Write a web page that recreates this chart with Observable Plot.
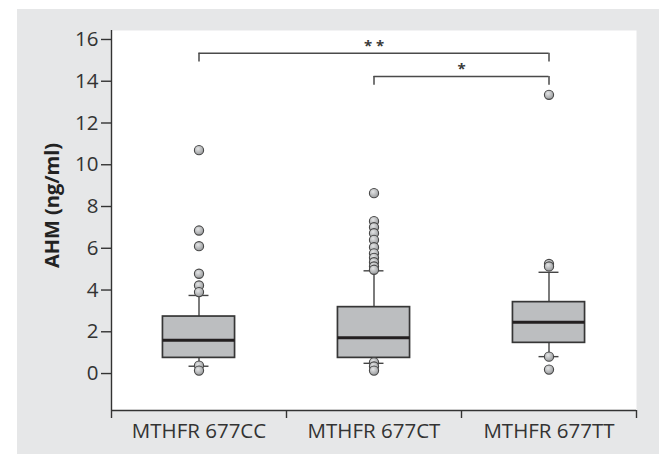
<!DOCTYPE html>
<html>
<head>
<meta charset="utf-8">
<script src="https://cdn.jsdelivr.net/npm/d3@7"></script>
<script src="https://cdn.jsdelivr.net/npm/@observablehq/plot@0.6"></script>
<style>
  html, body { margin: 0; padding: 0; background: #ffffff; }
  #wrap { position: relative; width: 659px; height: 454px; overflow: hidden; }
  #bg { position: absolute; left: 17px; top: 9px; width: 642px; height: 445px; background: #e6e7e8; }
  #chart { position: absolute; left: 0; top: 0; }
</style>
</head>
<body>
<div id="wrap"><div id="bg"></div><div id="chart"></div></div>
<script>
// ---- data ----
const groups = ["MTHFR 677CC", "MTHFR 677CT", "MTHFR 677TT"];
const q1 = [0.75, 0.75, 1.47];
const medians = [1.6, 1.71, 2.46];
const q3 = [2.73, 3.18, 3.42];
const whiskerLow = [0.35, 0.49, 0.81];
const whiskerHigh = [3.74, 4.92, 4.85];
const outliersCC = [10.7, 6.85, 6.1, 4.78, 4.22, 3.9, 0.38, 0.14];
const outliersCT = [8.64, 7.3, 7.01, 6.72, 6.4, 6.05, 5.76, 5.54, 5.33, 5.13, 4.97, 0.54, 0.34, 0.14];
const outliersTT = [13.35, 5.25, 5.13, 0.81, 0.19];
const yTicks = [0, 2, 4, 6, 8, 10, 12, 14, 16];
const yTitle = "AHM (ng/ml)";
const bracketFrom = [0, 1];
const bracketTo = [2, 2];
const bracketLevel = [15.34, 14.23];
const bracketLabel = ["* *", "*"];

// ---- derived tables ----
const yDomain = [-1.77, 16.43];
const boxHalf = 0.206, capHalf = 0.057, drop = 0.42;
const boxes = groups.map((g, i) => ({g, x: i + 0.5, q1: q1[i], med: medians[i], q3: q3[i], lo: whiskerLow[i], hi: whiskerHigh[i]}));
const outliers = [outliersCC, outliersCT, outliersTT];
const points = outliers.flatMap((arr, i) => arr.map(v => ({x: i + 0.5, y: v})));
const brackets = bracketFrom.map((f, i) => ({x1: f + 0.5, x2: bracketTo[i] + 0.5, y: bracketLevel[i], label: bracketLabel[i]}));
const bracketDrops = brackets.flatMap(b => [{x: b.x1, y1: b.y, y2: b.y - drop}, {x: b.x2, y1: b.y, y2: b.y - drop}]);

const ink = "#333333";
const plot = Plot.plot({
  width: 659,
  height: 454,
  marginLeft: 111,
  marginRight: 23,
  marginTop: 30,
  marginBottom: 44,
  style: {fontFamily: "'Open Sans', sans-serif", fontSize: "20.5px", color: ink, background: "transparent", overflow: "visible"},
  x: {type: "linear", domain: [0, 3]},
  y: {domain: yDomain},
  marks: [
    Plot.frame({fill: "white", stroke: "none"}),
    Plot.ruleX(boxes, {x: "x", y1: "q3", y2: "hi", stroke: "#444", strokeWidth: 1.4}),
    Plot.ruleX(boxes, {x: "x", y1: "q1", y2: "lo", stroke: "#444", strokeWidth: 1.4}),
    Plot.ruleY(boxes, {y: "hi", x1: d => d.x - capHalf, x2: d => d.x + capHalf, stroke: "#444", strokeWidth: 1.4}),
    Plot.ruleY(boxes, {y: "lo", x1: d => d.x - capHalf, x2: d => d.x + capHalf, stroke: "#444", strokeWidth: 1.4}),
    Plot.rect(boxes, {x1: d => d.x - boxHalf, x2: d => d.x + boxHalf, y1: "q1", y2: "q3", fill: "#bcbec0", stroke: "#363636", strokeWidth: 1.7}),
    Plot.ruleY(boxes, {y: "med", x1: d => d.x - boxHalf, x2: d => d.x + boxHalf, stroke: "#231f20", strokeWidth: 3}),
    Plot.dot(points, {x: "x", y: "y", r: 4.6, fill: "url(#dotGrad)", stroke: "#474747", strokeWidth: 1.1}),
    Plot.ruleY(brackets, {y: "y", x1: "x1", x2: "x2", stroke: "#4a4a4a", strokeWidth: 1.5}),
    Plot.ruleX(bracketDrops, {x: "x", y1: "y1", y2: "y2", stroke: "#4a4a4a", strokeWidth: 1.5}),
    Plot.text(brackets, {x: d => (d.x1 + d.x2) / 2, y: "y", text: "label", lineAnchor: "bottom", dy: -2, fontSize: 15, fontWeight: "bold", fill: "#3a3a3a"}),
    Plot.ruleX([0], {stroke: ink, strokeWidth: 1.4}),
    Plot.ruleY([yDomain[0]], {stroke: ink, strokeWidth: 1.4}),
    Plot.axisY({ticks: yTicks, tickSize: 10, tickPadding: 3, tickFormat: d => String(d), label: null, stroke: ink, strokeWidth: 1.4, fill: ink}),
    Plot.axisX({ticks: [0, 1, 2, 3], tickSize: 8, tickFormat: () => "", label: null, stroke: ink, strokeWidth: 1.4}),
    Plot.axisX({ticks: groups.map((g, i) => i + 0.5), tickSize: 0, tickPadding: 13, tickFormat: d => groups[Math.floor(d)], label: null, fontSize: 20.5, fill: ink}),
    Plot.text([yTitle], {frameAnchor: "left", textAnchor: "middle", rotate: -90, dx: -53, dy: -15, lineAnchor: "bottom", fontWeight: "bold", fontSize: 20, fill: "#222"})
  ]
});

// radial gradient for the shaded dots
const ns = "http://www.w3.org/2000/svg";
const defs = document.createElementNS(ns, "defs");
const grad = document.createElementNS(ns, "radialGradient");
grad.setAttribute("id", "dotGrad");
grad.setAttribute("cx", "0.4"); grad.setAttribute("cy", "0.35"); grad.setAttribute("r", "0.65");
[["0%", "#e4e5e6"], ["100%", "#9a9c9e"]].forEach(([o, c]) => {
  const s = document.createElementNS(ns, "stop");
  s.setAttribute("offset", o); s.setAttribute("stop-color", c);
  grad.appendChild(s);
});
defs.appendChild(grad);
plot.insertBefore(defs, plot.firstChild);
document.getElementById("chart").appendChild(plot);
</script>
</body>
</html>
